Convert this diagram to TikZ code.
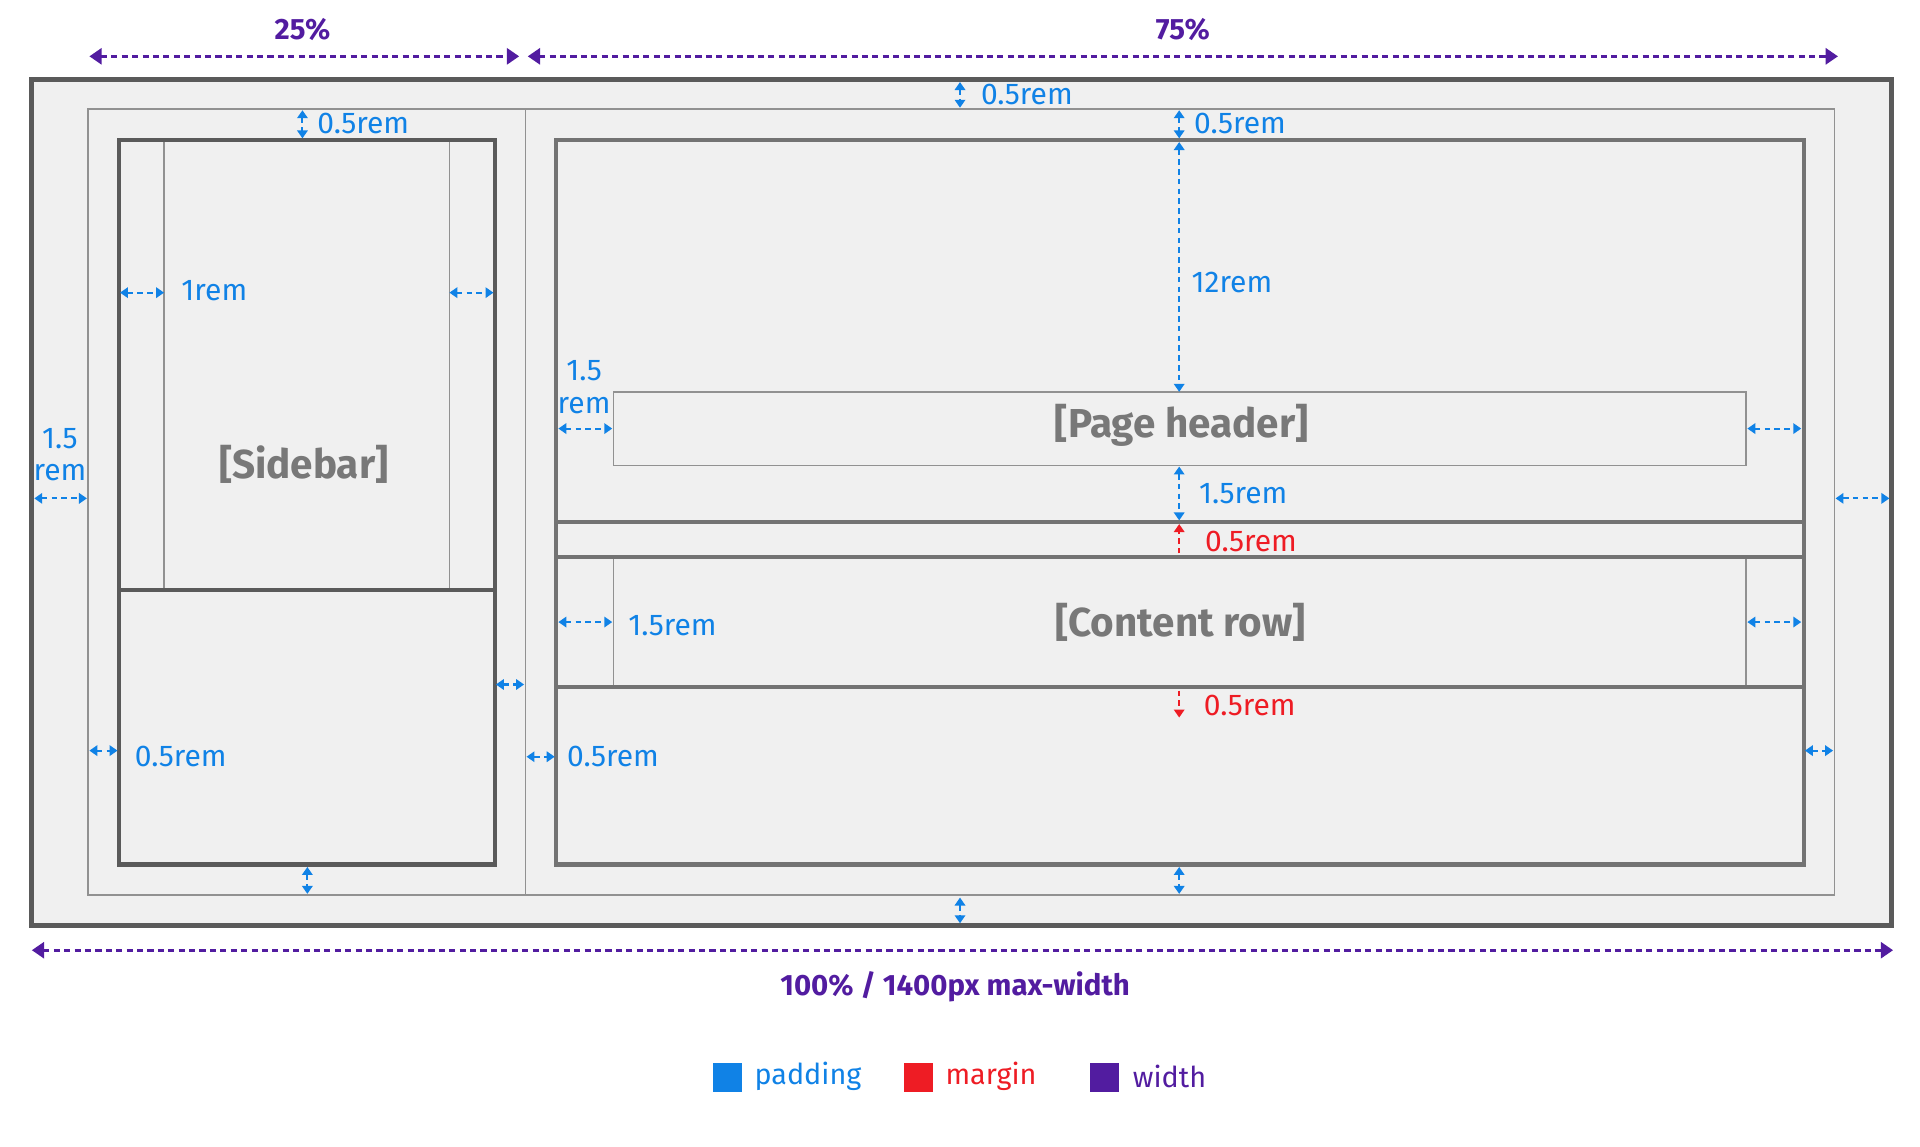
\documentclass[tikz,border=0pt]{standalone}
\usepackage{fontspec}
\setmainfont{Fira Sans}
\usetikzlibrary{arrows.meta}
\definecolor{padc}{RGB}{16,130,230}
\definecolor{margc}{RGB}{238,28,36}
\definecolor{widc}{RGB}{82,28,160}
\definecolor{bgc}{RGB}{240,240,240}
\definecolor{darkb}{RGB}{90,90,90}
\definecolor{midb}{RGB}{115,115,115}
\definecolor{thinb}{RGB}{145,145,145}
\definecolor{labgray}{RGB}{120,120,120}
\tikzset{
  padarr/.style={padc, line width=1.7pt, dash pattern=on 4.5pt off 3.5pt,
    {Triangle[length=6.5pt,width=8.5pt]}-{Triangle[length=6.5pt,width=8.5pt]}},
  margarr/.style={margc, line width=1.7pt, dash pattern=on 4.5pt off 3.5pt,
    -{Triangle[length=6.5pt,width=8.5pt]}},
  widarr/.style={widc, line width=2.4pt, dash pattern=on 5pt off 3.5pt,
    {Triangle[length=10pt,width=13pt]}-{Triangle[length=10pt,width=13pt]}},
  padlab/.style={padc, font=\fontsize{24.5}{28}\selectfont, anchor=west, inner sep=0pt},
  marglab/.style={margc, font=\fontsize{24.5}{28}\selectfont, anchor=west, inner sep=0pt},
  padlabc/.style={padc, font=\fontsize{24.5}{28}\selectfont, inner sep=0pt},
  widlab/.style={widc, font=\fontsize{24}{28}\selectfont\bfseries, inner sep=0pt},
  boxlab/.style={labgray, font=\fontsize{33}{38}\selectfont\bfseries, inner sep=0pt},
  thinbox/.style={thinb, line width=1.2pt},
  sidebox/.style={darkb, line width=3.4pt},
  mainbox/.style={midb, line width=3.4pt},
  outerbox/.style={darkb, line width=4pt},
  legtxt/.style={font=\fontsize{23.5}{28}\selectfont, anchor=west, inner sep=0pt},
}
\begin{document}
\begin{tikzpicture}[x=1pt,y=-1pt]
\useasboundingbox (0,0) rectangle (1568,936.7);
% background
\fill[bgc] (26,65) rectangle (1545,756);
% thin boxes
\draw[thinbox] (72,89) rectangle (1498,731);
\draw[thinbox] (429,89) -- (429,731);
\draw[thinbox] (134,114) rectangle (367,482);
\draw[thinbox] (501,320) rectangle (1426,380);
\draw[thinbox] (501,456) rectangle (1426,561);
% sidebar
\draw[sidebox] (97,114) rectangle (404,706);
\draw[sidebox] (97,482) -- (404,482);
% main
\draw[mainbox] (454,114) rectangle (1473,706);
\draw[mainbox] (454,426) -- (1473,426);
\draw[mainbox] (454,455) -- (1473,455);
\draw[mainbox] (454,561) -- (1473,561);
% outer
\draw[outerbox] (26,65) rectangle (1545,756);

% width arrows
\draw[widarr] (73,46) -- (424,46);
\draw[widarr] (431,46) -- (1501,46);
\draw[widarr] (26,776) -- (1546,776);
\node[widlab] (w25) at (247,24) {25\%};
\node[widlab] (w75) at (966,24) {75\%};
\node[widlab] (w100) at (780,806) {100\% / 1400px max-width};

% box labels
\node[boxlab] (sb) at (248,379) {[Sidebar]};
\node[boxlab] (ph) at (965,347) {[Page header]};
\node[boxlab] (cr) at (964,508) {[Content row]};

% padding arrows
\draw[padarr] (784,67) -- (784,88);
\node[padlab] at (801,77) {0.5rem};
\draw[padarr] (247,90) -- (247,113);
\node[padlab] at (259,101) {0.5rem};
\draw[padarr] (963,90) -- (963,113);
\node[padlab] at (975,101) {0.5rem};
\draw[padarr] (963,116) -- (963,320);
\node[padlab] at (973,231) {12rem};
\draw[padarr] (98,239) -- (134,239);
\node[padlab] at (148,237) {1rem};
\draw[padarr] (367,239) -- (403,239);
\draw[padarr] (28,407) -- (71,407);
\node[padlabc] at (49,358) {1.5};
\node[padlabc] at (49,386) {rem};
\draw[padarr] (1499,407) -- (1543,407);
\draw[padarr] (456,350) -- (500,350);
\node[padlabc] at (477,303) {1.5};
\node[padlabc] at (477,331) {rem};
\draw[padarr] (1427,350) -- (1471,350);
\draw[padarr] (963,381) -- (963,425);
\node[padlab] at (979,403) {1.5rem};
\draw[padarr] (456,508) -- (500,508);
\node[padlab] at (513,511) {1.5rem};
\draw[padarr] (1427,508) -- (1471,508);
\draw[padarr] (405,559) -- (428,559);
\draw[padarr] (73,613) -- (96,613);
\node[padlab] at (110,618) {0.5rem};
\draw[padarr] (430,618) -- (453,618);
\node[padlab] at (463,618) {0.5rem};
\draw[padarr] (1474,613) -- (1497,613);
\draw[padarr] (251,708) -- (251,730);
\draw[padarr] (963,708) -- (963,730);
\draw[padarr] (784,733) -- (784,754);

% margin arrows
\draw[margarr] (963,452) -- (963,428);
\node[marglab] at (984,442) {0.5rem};
\draw[margarr] (963,564) -- (963,586);
\node[marglab] at (983,576) {0.5rem};

% legend
\fill[padc] (582,868) rectangle (606,892);
\node[legtxt, padc] (lp) at (616,879) {padding};
\fill[margc] (738,868) rectangle (762,892);
\node[legtxt, margc] (lm) at (772,879) {margin};
\fill[widc] (890,868) rectangle (914,892);
\node[legtxt, widc] (lw) at (925,879) {width};
\end{tikzpicture}
\end{document}
